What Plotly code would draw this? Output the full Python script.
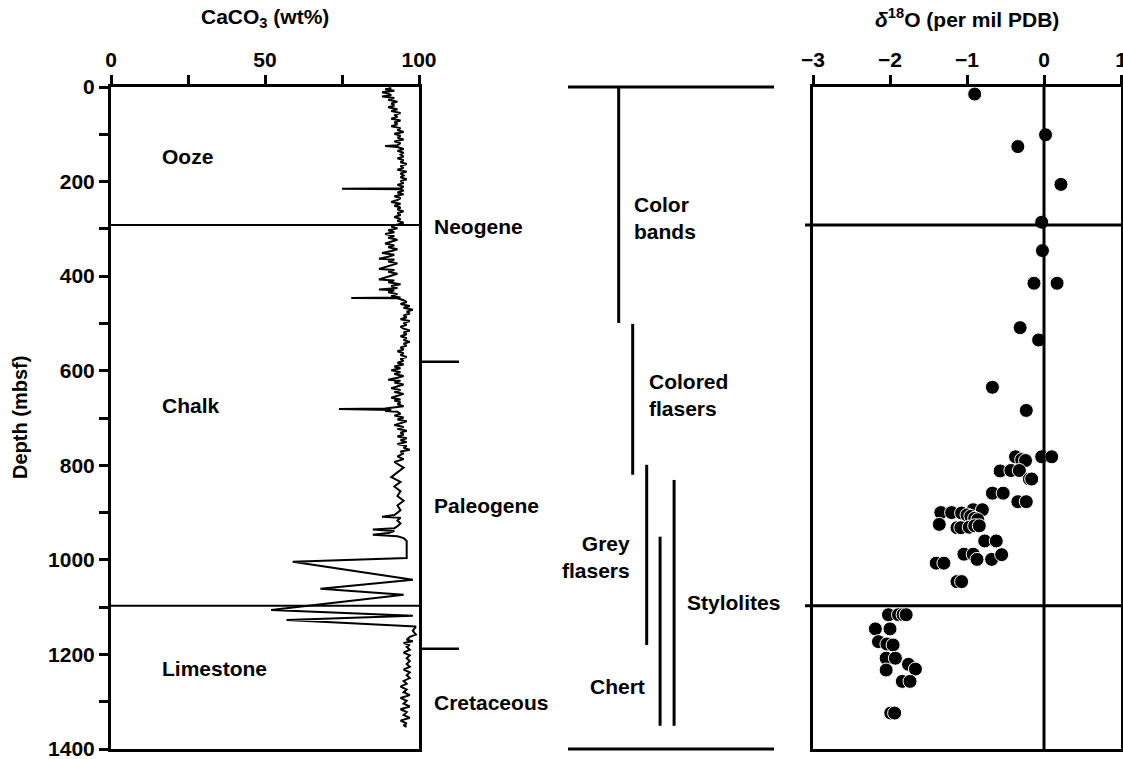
import plotly.graph_objects as go

# ---------------- DATA ----------------
# CaCO3 curve (depth in mbsf, CaCO3 wt%)
caco3_depth = [
    2, 5, 8, 11, 14, 17, 20, 23, 27, 31, 35, 39, 43, 47, 51, 55, 59, 63, 67, 71, 75, 79, 83, 87,
    91, 95, 99, 103, 107, 111, 115, 119, 123, 125, 127, 131, 135, 139, 143, 147, 151, 155, 159,
    163, 167, 171, 175, 179, 183, 187, 191, 195, 199, 203, 207, 211, 214, 215, 216, 219,
    223, 227, 231, 235, 239, 243, 247, 251, 255, 259, 263, 267, 271, 275, 279, 283, 287, 291,
    295, 299, 303, 307, 311, 315, 319, 323, 327, 331, 335, 339, 343, 347, 351, 355, 359, 363,
    365, 369, 373, 377, 381, 385, 387, 391, 395, 399, 403, 407, 409, 413, 417, 421, 425, 428,
    430, 434, 438, 442, 445, 446, 447,
    451, 455, 459, 463, 467, 471, 475, 479, 483, 487, 491, 495, 499, 503, 507, 511, 515, 519,
    523, 527, 531, 535, 539, 543, 547, 551, 555, 559, 563, 567, 571, 575, 579,
    583, 587, 591, 595, 599, 603, 607, 611, 615, 619, 621, 625, 629, 633, 637, 641, 645, 649,
    653, 657, 661, 663, 667, 671, 675, 678, 680, 681, 683, 685, 687,
    691, 695, 699, 703, 707, 711, 715, 719, 723, 727, 731, 735, 739, 743, 747, 751,
    755, 759, 763, 767, 771, 775, 781, 787, 793, 805, 815, 825, 835, 845, 855, 865, 875, 885,
    895, 905, 909, 911, 917, 923, 929, 933, 936, 939, 943, 947, 950, 954, 960, 970, 980, 990, 996,
    1004, 1042, 1061, 1074, 1106, 1118, 1127, 1141, 1150, 1158, 1163, 1169, 1172, 1176, 1180, 1184,
    1190, 1196, 1202, 1208, 1214, 1220, 1226, 1232, 1238, 1244, 1250, 1256, 1262, 1268, 1274,
    1280, 1286, 1292, 1298, 1304, 1310, 1316, 1322, 1328, 1334, 1340, 1346, 1350, 1353,
]
caco3_wt = [
    91, 89, 92, 88, 90, 91, 88, 92, 90, 93, 91, 92, 90, 93, 91, 94, 92, 93, 91, 94, 92, 93, 91, 94,
    93, 95, 92, 94, 93, 95, 92, 94, 93, 89, 93, 95, 93, 95, 94, 95, 93, 95, 94,
    96, 94, 95, 93, 96, 94, 95, 94, 96, 94, 95, 93, 95, 94, 75, 94, 95,
    93, 95, 92, 94, 93, 91, 94, 92, 94, 93, 95, 93, 94, 92, 94, 93, 95, 93,
    91, 93, 90, 92, 89, 92, 90, 93, 91, 89, 92, 90, 93, 91, 88, 92, 90, 87,
    92, 90, 93, 91, 89, 87, 92, 90, 93, 91, 89, 87, 92, 90, 94, 91, 93, 87,
    92, 90, 93, 91, 94, 78, 93,
    95, 96, 94, 97, 95, 98, 96, 97, 95, 96, 94, 97, 95, 96, 94, 95, 97, 95,
    96, 94, 96, 95, 97, 95, 96, 94, 95, 93, 95, 94, 96, 94, 95,
    93, 95, 92, 94, 91, 94, 92, 95, 93, 90, 94, 92, 95, 93, 91, 94, 92, 95,
    93, 91, 94, 92, 94, 93, 95, 92, 89, 74, 91, 89, 93,
    94, 92, 95, 93, 96, 94, 92, 95, 93, 96, 94, 95, 93, 96, 94, 96,
    93, 96, 95, 97, 94, 95, 93, 95, 92, 95, 93, 91, 94, 92, 94, 93, 95, 93,
    94, 92, 88, 94, 93, 94, 93, 92, 85, 92, 90, 85, 93, 95, 96, 96, 96, 96, 96,
    59, 98, 68, 95, 52, 98, 57, 99, 98, 99, 97, 96, 98, 95, 97, 96,
    97, 95, 97, 96, 97, 96, 97, 95, 97, 96, 97, 95, 96, 94, 96,
    95, 97, 94, 96, 95, 97, 94, 96, 95, 97, 94, 96, 95, 96,
]

# delta 18O samples (per mil PDB) and their depths (mbsf)
d18o_depth = [
    15, 101, 126, 206, 286, 346, 415, 415, 509, 535, 635, 684,
    782, 788, 790, 782, 782, 812, 811, 811, 829, 829, 859, 859, 877, 877,
    900, 900, 901, 894, 894, 905, 908, 912, 915, 925, 932, 932, 931, 928, 928,
    960, 960, 988, 988, 999, 999, 989, 1007, 1007, 1046, 1046,
    1116, 1116, 1116, 1116, 1146, 1146, 1173, 1178, 1180, 1208, 1208,
    1221, 1231, 1233, 1257, 1257, 1324, 1324,
]
d18o_value = [
    -0.90, 0.02, -0.34, 0.22, -0.03, -0.02, -0.13, 0.17, -0.31, -0.07, -0.67, -0.23,
    -0.37, -0.29, -0.24, -0.03, 0.10, -0.57, -0.43, -0.32, -0.19, -0.16, -0.67, -0.53, -0.34, -0.23,
    -1.34, -1.20, -1.07, -0.92, -0.80, -1.00, -0.95, -0.90, -0.86, -1.36, -1.13, -1.08, -0.97, -0.90, -0.84,
    -0.77, -0.62, -1.04, -0.92, -0.87, -0.68, -0.55, -1.40, -1.30, -1.13, -1.07,
    -2.02, -1.89, -1.83, -1.79, -2.19, -2.00, -2.15, -2.04, -1.96, -2.05, -1.93,
    -1.76, -1.67, -2.05, -1.84, -1.74, -1.99, -1.94,
]

# lithologic units (left panel)
lith_units = ["Ooze", "Chalk", "Limestone"]
lith_label_depth = [148, 674, 1230]
lith_boundaries = [292, 1097]

# epochs
epochs = ["Neogene", "Paleogene", "Cretaceous"]
epoch_label_depth = [296, 884, 1302]
epoch_boundaries = [581, 1188]

# diagenetic features (middle panel)
features = ["Color<br>bands", "Colored<br>flasers", "Grey<br>flasers", "Chert", "Stylolites"]
feature_top = [0, 501, 799, 951, 831]
feature_base = [499, 820, 1180, 1351, 1351]
feature_label_depth = [278, 651, 994, 1268, 1091]

# ticks
depth_major = list(range(0, 1401, 200))
depth_minor = list(range(100, 1400, 200))
caco3_major = [0, 50, 100]
caco3_minor = [25, 75]
d18o_ticks = [-3, -2, -1, 0, 1]
d18o_ticktext = ["\u22123", "\u22122", "\u22121", "0", "1"]

# ---------------- LAYOUT CONSTANTS ----------------
W, H = 1123, 759
FONT = "Liberation Sans, Arial, sans-serif"
FS = 21
Y_DOM = [1 - 749 / H, 1 - 87 / H]
X1_DOM = [111 / W, 419 / W]
X2_DOM = [568 / W, 774 / W]
X3_DOM = [813 / W, 1121 / W]
feature_col_x = [0.246, 0.314, 0.382, 0.447, 0.515]
feature_label_x = [0.311, 0.383, 0.311, 0.383, 0.568]
feature_label_anchor = ["left", "left", "right", "right", "left"]


def ypaper(depth):
    return Y_DOM[0] + (1 - depth / 1400.0) * (Y_DOM[1] - Y_DOM[0])


fig = go.Figure()

fig.add_trace(go.Scatter(
    x=caco3_wt, y=caco3_depth, mode="lines",
    line=dict(color="black", width=2), xaxis="x", yaxis="y", showlegend=False,
))

for i in range(len(features)):
    fig.add_trace(go.Scatter(
        x=[feature_col_x[i], feature_col_x[i]], y=[feature_top[i], feature_base[i]],
        mode="lines", line=dict(color="black", width=3),
        xaxis="x2", yaxis="y2", showlegend=False,
    ))

fig.add_trace(go.Scatter(
    x=d18o_value, y=d18o_depth, mode="markers",
    marker=dict(color="black", size=14, line=dict(color="white", width=1)),
    xaxis="x3", yaxis="y3", showlegend=False, cliponaxis=False,
))

axis_common = dict(showgrid=False, zeroline=False, showline=True, linecolor="black",
                   linewidth=3, mirror=True, automargin=False)
tick_font = dict(size=FS, family=FONT, weight="bold", color="black")
minor_style = dict(ticks="outside", ticklen=9, tickwidth=3, tickcolor="black", showgrid=False)

fig.update_layout(
    width=W, height=H,
    margin=dict(l=0, r=0, t=0, b=0),
    paper_bgcolor="white", plot_bgcolor="white",
    font=dict(family=FONT, size=FS, color="black", weight="bold"),
    xaxis=dict(domain=X1_DOM, range=[0, 100], side="top", anchor="y",
               tickmode="array", tickvals=caco3_major, ticks="outside",
               ticklen=9, tickwidth=3, tickcolor="black", tickfont=tick_font,
               ticklabeloverflow="allow",
               minor=dict(tickmode="array", tickvals=caco3_minor, **minor_style),
               **axis_common),
    yaxis=dict(domain=Y_DOM, range=[1400, 0], anchor="x",
               tickmode="array", tickvals=depth_major, ticks="outside",
               ticklen=9, tickwidth=3, tickcolor="black", tickfont=tick_font,
               ticklabeloverflow="allow",
               minor=dict(tickmode="array", tickvals=depth_minor, **minor_style),
               **axis_common),
    xaxis2=dict(domain=X2_DOM, range=[0, 1], anchor="y2", visible=False),
    yaxis2=dict(domain=Y_DOM, range=[1400, 0], anchor="x2", visible=False),
    xaxis3=dict(domain=X3_DOM, range=[-3, 1], side="top", anchor="y3",
                tickmode="array", tickvals=d18o_ticks, ticktext=d18o_ticktext, ticks="outside",
                ticklen=9, tickwidth=3, tickcolor="black", tickfont=tick_font,
                ticklabeloverflow="allow",
                **axis_common),
    yaxis3=dict(domain=Y_DOM, range=[1400, 0], anchor="x3", showticklabels=False,
                ticks="", **axis_common),
)

# zero line in d18O panel
fig.add_shape(type="line", xref="x3", yref="paper", x0=0, x1=0,
              y0=Y_DOM[0], y1=Y_DOM[1], line=dict(color="black", width=3))

for d in lith_boundaries:
    fig.add_shape(type="line", xref="paper", yref="paper", x0=X1_DOM[0], x1=X1_DOM[1],
                  y0=ypaper(d), y1=ypaper(d), line=dict(color="black", width=2))
    fig.add_shape(type="line", xref="paper", yref="paper", x0=805 / W, x1=X3_DOM[1],
                  y0=ypaper(d), y1=ypaper(d), line=dict(color="black", width=3))
for d in epoch_boundaries:
    fig.add_shape(type="line", xref="paper", yref="paper", x0=X1_DOM[1], x1=459 / W,
                  y0=ypaper(d), y1=ypaper(d), line=dict(color="black", width=2.5))
for d in [0, 1400]:
    fig.add_shape(type="line", xref="paper", yref="paper", x0=X2_DOM[0], x1=X2_DOM[1],
                  y0=ypaper(d), y1=ypaper(d), line=dict(color="black", width=3))

lab_font = dict(family=FONT, size=FS, color="black", weight="bold")
for name, d in zip(lith_units, lith_label_depth):
    fig.add_annotation(x=160 / W, xref="paper", y=ypaper(d), yref="paper", text=name,
                       showarrow=False, xanchor="left", yanchor="middle", font=lab_font)
for name, d in zip(epochs, epoch_label_depth):
    fig.add_annotation(x=432 / W, xref="paper", y=ypaper(d), yref="paper", text=name,
                       showarrow=False, xanchor="left", yanchor="middle", font=lab_font)
for i, name in enumerate(features):
    fig.add_annotation(x=feature_label_x[i], xref="x2", y=ypaper(feature_label_depth[i]),
                       yref="paper", text=name, showarrow=False,
                       xanchor=feature_label_anchor[i], align=feature_label_anchor[i],
                       yanchor="middle", font=lab_font)

# axis titles
fig.add_annotation(x=265 / W, y=1 - 18 / H, xref="paper", yref="paper",
                   text="CaCO<sub>3</sub> (wt%)", showarrow=False,
                   xanchor="center", yanchor="middle", font=lab_font)
fig.add_annotation(x=967 / W, y=1 - 18 / H, xref="paper", yref="paper",
                   text="<i>\u03b4</i><sup>18</sup>O (per mil PDB)", showarrow=False,
                   xanchor="center", yanchor="middle", font=lab_font)
fig.add_annotation(x=20 / W, y=1 - 418 / H, xref="paper", yref="paper",
                   text="Depth (mbsf)", textangle=-90, showarrow=False,
                   xanchor="center", yanchor="middle",
                   font=dict(family=FONT, size=20, color="black", weight="bold"))

fig.write_html(
    "out.html",
    config={"displayModeBar": False},
    post_script="document.body.style.margin='0';document.body.style.overflow='hidden';",
)
